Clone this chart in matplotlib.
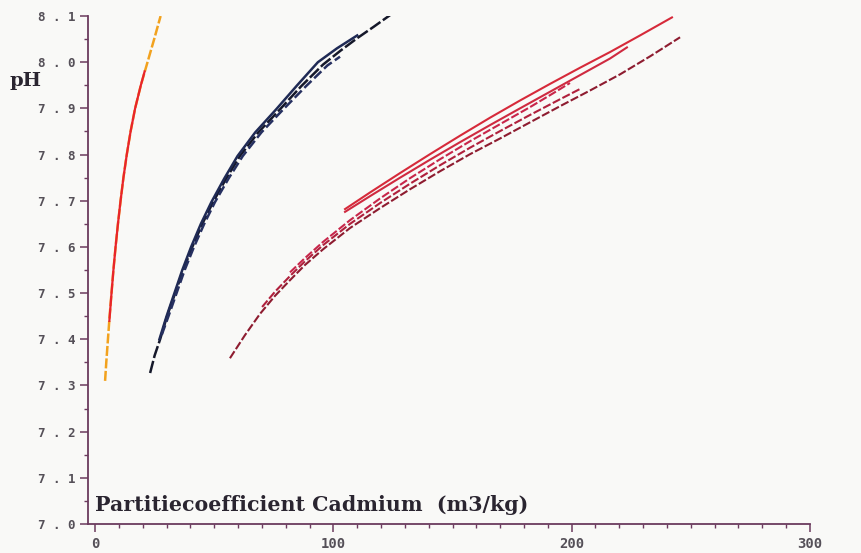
#!/usr/bin/env python3
"""pH tegen de partitiecoëfficiënt van cadmium, naar een gescande plotterfiguur."""

import matplotlib

matplotlib.use("Agg")
import matplotlib.pyplot as plt
from matplotlib.ticker import FuncFormatter, MultipleLocator

# linker curve (oranje / rood)
ORANGE_PH = [7.31, 7.35, 7.40, 7.45, 7.50, 7.55, 7.60, 7.65, 7.70, 7.75, 7.80, 7.85,
             7.90, 7.95, 8.00, 8.05, 8.10]
ORANGE_KD = [4.2, 4.7, 5.4, 6.1, 6.9, 7.7, 8.6, 9.6, 10.7, 11.9, 13.3, 14.9,
             16.8, 19.2, 22.0, 24.8, 27.5]
RED_PH = [7.44, 7.50, 7.55, 7.60, 7.65, 7.70, 7.75, 7.80, 7.85, 7.90, 7.95, 7.98]
RED_KD = [6.0, 6.9, 7.7, 8.6, 9.6, 10.7, 11.9, 13.3, 14.9, 16.8, 19.2, 20.8]

# middelste bundel (zwart / donkerblauw)
DARK_KD = [
    [23.1, 25.0, 27.3, 30.2, 33.6, 37.0, 40.8, 45.0, 49.5, 55.0, 60.8, 68.5, 77.6,
     86.5, 95.7, 103.0, 110.0, 117.0, 123.8],
    [27.0, 30.0, 33.3, 36.6, 40.3, 44.4, 48.8, 54.2, 59.8, 67.2, 76.0, 84.8, 93.5,
     101.5, 110.0],
    [28.0, 30.8, 34.2, 37.6, 41.5, 45.8, 50.3, 56.0, 62.0, 69.8, 79.0, 88.5, 97.5,
     102.8],
]
DARK_PH = [
    [7.327, 7.365, 7.400, 7.450, 7.500, 7.550, 7.600, 7.650, 7.697, 7.748, 7.797,
     7.848, 7.898, 7.948, 7.995, 8.025, 8.052, 8.077, 8.102],
    [7.400, 7.450, 7.500, 7.550, 7.600, 7.650, 7.697, 7.748, 7.797, 7.848, 7.898,
     7.950, 8.000, 8.030, 8.058],
    [7.410, 7.450, 7.500, 7.550, 7.600, 7.650, 7.697, 7.748, 7.797, 7.848, 7.898,
     7.948, 7.993, 8.012],
]

# rechter bundel (rood)
RED_BUNDLE_KD = [
    [104.9, 115.4, 128.0, 140.6, 153.2, 165.8, 178.3, 190.9, 203.5, 216.1, 228.7, 242.1],
    [104.9, 115.4, 128.0, 140.6, 153.2, 165.8, 178.3, 190.9, 203.5, 216.1, 223.2],
    [81.8, 88.1, 95.7, 107.0, 119.6, 132.2, 144.8, 157.4, 170.0, 182.6, 192.0, 199.3],
    [70.1, 75.5, 81.8, 88.1, 95.7, 107.0, 119.6, 132.2, 144.8, 157.4, 170.0, 182.6,
     195.2, 203.5],
    [56.6, 62.9, 69.2, 75.5, 81.8, 88.1, 95.7, 107.0, 119.6, 132.2, 144.8, 157.4,
     170.0, 182.6, 195.2, 207.8, 220.4, 233.0, 245.5],
]
RED_BUNDLE_PH = [
    [7.682, 7.718, 7.760, 7.801, 7.841, 7.880, 7.917, 7.953, 7.988, 8.022, 8.058, 8.097],
    [7.676, 7.710, 7.750, 7.789, 7.827, 7.864, 7.900, 7.936, 7.972, 8.008, 8.032],
    [7.545, 7.576, 7.611, 7.658, 7.705, 7.749, 7.790, 7.829, 7.866, 7.903, 7.932, 7.955],
    [7.470, 7.503, 7.537, 7.569, 7.604, 7.650, 7.695, 7.737, 7.777, 7.815, 7.851,
     7.886, 7.920, 7.942],
    [7.359, 7.409, 7.455, 7.494, 7.528, 7.561, 7.595, 7.641, 7.684, 7.725, 7.764,
     7.801, 7.835, 7.870, 7.905, 7.939, 7.974, 8.013, 8.054],
]

DARK_STYLES = [
    ("#15182a", (0, (5, 1.2))),
    ("#1f2a55", "-"),
    ("#263060", (0, (4, 1.5))),
]
RED_STYLES = [
    ("#d62a3a", "-"),
    ("#cf2a40", "-"),
    ("#c8264a", (0, (4, 1.2))),
    ("#b0203c", (0, (4, 1.2))),
    ("#8e1c30", (0, (4, 1.2))),
]

AXIS_COLOR = "#6b3b5e"
TEXT_COLOR = "#2a2530"
TICK_COLOR = "#555058"
BG = "#f9f9f7"


def spaced(value, _pos):
    return " ".join(f"{value:.1f}")


def main() -> None:
    fig = plt.figure(figsize=(8.62, 5.53), dpi=100, facecolor=BG)
    ax = fig.add_axes([0.102, 0.0524, 0.8376, 0.9186], facecolor=BG)

    ax.plot(ORANGE_KD, ORANGE_PH, color="#f2a21e", lw=1.8, ls=(0, (4, 1)))
    ax.plot(RED_KD, RED_PH, color="#e8242c", lw=1.6)

    for kd, ph, (color, ls) in zip(DARK_KD, DARK_PH, DARK_STYLES):
        ax.plot(kd, ph, color=color, lw=1.8, ls=ls)

    for kd, ph, (color, ls) in zip(RED_BUNDLE_KD, RED_BUNDLE_PH, RED_STYLES):
        ax.plot(kd, ph, color=color, lw=1.5, ls=ls)

    ax.set_xlim(-3, 300)
    ax.set_ylim(7.0, 8.1)

    for side in ("top", "right"):
        ax.spines[side].set_visible(False)
    for side in ("left", "bottom"):
        ax.spines[side].set_color(AXIS_COLOR)
        ax.spines[side].set_linewidth(1.3)

    ax.xaxis.set_major_locator(MultipleLocator(100))
    ax.xaxis.set_minor_locator(MultipleLocator(10))
    ax.yaxis.set_major_locator(MultipleLocator(0.1))
    ax.yaxis.set_minor_locator(MultipleLocator(0.05))
    ax.yaxis.set_major_formatter(FuncFormatter(spaced))

    ax.tick_params(axis="both", which="major", direction="out", length=6,
                   width=1.1, color=AXIS_COLOR, labelcolor=TICK_COLOR, pad=3)
    ax.tick_params(axis="both", which="minor", direction="out", length=3,
                   width=1.0, color=AXIS_COLOR)
    for lbl in ax.get_yticklabels():
        lbl.set_fontfamily("DejaVu Sans Mono")
        lbl.set_fontsize(9)
        lbl.set_fontweight("bold")
    for lbl in ax.get_xticklabels():
        lbl.set_fontfamily("DejaVu Sans Mono")
        lbl.set_fontsize(10)
        lbl.set_fontweight("bold")

    fig.text(0.011, 1 - 86 / 553, "pH", family="DejaVu Serif", weight="bold",
             size=14, color=TEXT_COLOR, va="baseline")
    ax.text(0.0, 7.028, "Partitiecoefficient Cadmium  (m3/kg)", family="DejaVu Serif",
            weight="bold", size=14.8, color=TEXT_COLOR, va="baseline")

    fig.savefig("out.png", dpi=100, facecolor=BG)


if __name__ == "__main__":
    main()
